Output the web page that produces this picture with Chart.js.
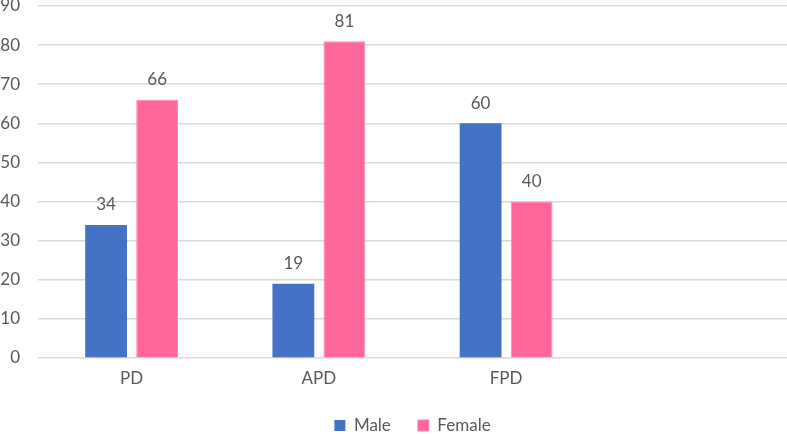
<!DOCTYPE html>
<html>
<head>
<meta charset="utf-8">
<script src="https://cdn.jsdelivr.net/npm/chart.js@4.4.1/dist/chart.umd.min.js"></script>
<style>
  html, body { margin: 0; padding: 0; background: #fff; }
  #wrap { width: 787px; height: 434px; }
</style>
</head>
<body>
<div id="wrap"><canvas id="chart"></canvas></div>
<script>
// categories (last slot is an empty category, as in the source sheet)
const categories = ['PD', 'APD', 'FPD', ''];
const maleValues = [34, 19, 60, null];
const femaleValues = [66, 81, 40, null];
const yTicks = { min: 0, max: 90, step: 10 };

const FONT = 'Lato, "Open Sans", sans-serif';
const TEXT = '#595959';

// draw value labels above the bars (no datalabels plugin offline)
const valueLabels = {
    id: 'valueLabels',
    afterDatasetsDraw(chart) {
        const ctx = chart.ctx;
        ctx.save();
        ctx.font = '17px ' + FONT;
        ctx.fillStyle = TEXT;
        ctx.textAlign = 'center';
        ctx.textBaseline = 'middle';
        chart.data.datasets.forEach((ds, i) => {
            chart.getDatasetMeta(i).data.forEach((bar, j) => {
                if (ds.data[j] == null) return;
                ctx.fillText(ds.data[j], bar.x, bar.y - 20);
            });
        });
        ctx.restore();
    },
};

new Chart(document.getElementById('chart'), {
    type: 'bar',
    data: {
        labels: categories,
        datasets: [
            { label: 'Male', data: maleValues, backgroundColor: '#4472C4' },
            { label: 'Female', data: femaleValues, backgroundColor: '#FF6699', borderColor: '#FF8AB0', borderWidth: 1 },
        ],
    },
    options: {
        responsive: true,
        maintainAspectRatio: false,
        animation: false,
        categoryPercentage: 0.545,
        barPercentage: 0.82,
        layout: { padding: 0 },
        plugins: {
            tooltip: { enabled: false },
            legend: {
                position: 'bottom',
                fullSize: false,
                maxHeight: 44,
                labels: {
                    boxWidth: 11,
                    boxHeight: 11,
                    padding: 27,
                    color: TEXT,
                    font: { family: FONT, size: 17 },
                },
            },
        },
        scales: {
            x: {
                afterFit(scale) { scale.height = 32; },
                grid: { display: false },
                border: { display: false },
                ticks: { color: TEXT, font: { family: FONT, size: 17 }, padding: 2 },
            },
            y: {
                min: yTicks.min,
                max: yTicks.max,
                afterFit(scale) { scale.width = 38; },
                grid: { color: '#D9D9D9', lineWidth: 1.5, tickLength: 18, tickColor: 'rgba(0,0,0,0)' },
                border: { display: false },
                ticks: { stepSize: yTicks.step, color: TEXT, font: { family: FONT, size: 17, lineHeight: 0.7 }, padding: 0 },
            },
        },
    },
    plugins: [valueLabels],
});
</script>
</body>
</html>
